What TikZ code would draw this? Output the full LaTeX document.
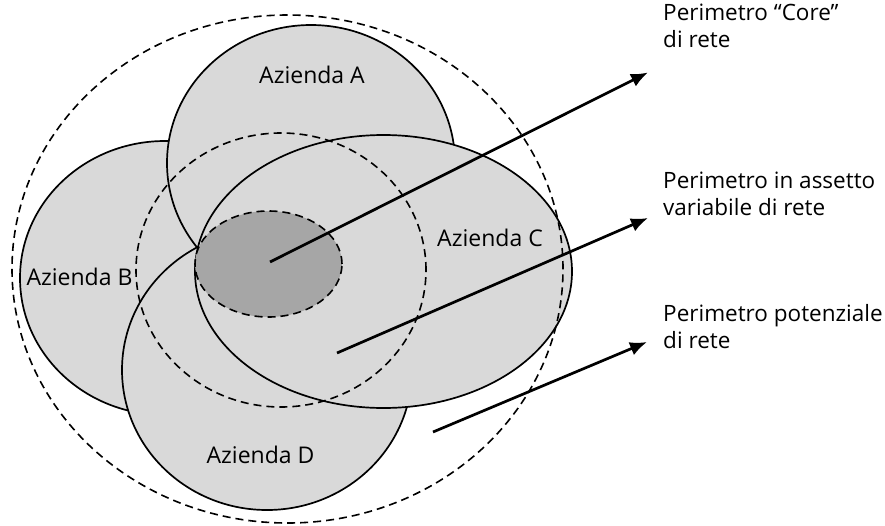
\documentclass[tikz,border=0pt]{standalone}
\usepackage{fontspec}
\setmainfont{Open Sans}
\usetikzlibrary{arrows.meta}
\definecolor{firmgray}{HTML}{D9D9D9}
\definecolor{coregray}{HTML}{A6A6A6}
\tikzset{
  firm/.style={fill=firmgray, draw=black, line width=1.7pt},
  perim/.style={draw=black, line width=1.6pt, dash pattern=on 8pt off 5pt},
  corearea/.style={fill=coregray, draw=black, line width=1.6pt, dash pattern=on 8pt off 5pt},
  pointer/.style={draw=black, line width=2.7pt, -{Latex[length=17pt,width=14pt]}},
  firmlabel/.style={anchor=base, inner sep=0pt, font=\fontsize{23pt}{27pt}\selectfont},
  sidelabel/.style={anchor=base west, inner sep=0pt, align=left, font=\fontsize{22.5pt}{27pt}\selectfont}
}
\begin{document}
\begin{tikzpicture}[x=1pt,y=-1pt]
\useasboundingbox (0,0) rectangle (885,525);
% firms (drawing order B, A, D, C)
\coordinate (cB) at (165,278);
\coordinate (cA) at (311,163);
\coordinate (cD) at (267,370);
\coordinate (cC) at (383.5,271.5);
\coordinate (cIn) at (281,270);
\coordinate (cOut) at (287.5,269);
\coordinate (cCore) at (268.5,264);
\path[firm] (cB) ellipse [x radius=145pt, y radius=137pt];
\path[firm] (cA) ellipse [x radius=144pt, y radius=138pt];
\path[firm] (cD) ellipse [x radius=145pt, y radius=140pt];
\path[firm] (cC) ellipse [x radius=188.5pt, y radius=136.5pt];
% perimeters
\path[perim] (cIn) ellipse [x radius=145pt, y radius=137pt];
\path[perim] (cOut) ellipse [x radius=275.5pt, y radius=254pt];
\path[corearea] (cCore) ellipse [x radius=73.5pt, y radius=53pt];
% firm labels
\node[firmlabel] (lA) at (312,83) {Azienda A};
\node[firmlabel] (lB) at (79.5,285) {Azienda B};
\node[firmlabel] (lC) at (490,246) {Azienda C};
\node[firmlabel] (lD) at (260.5,463) {Azienda D};
% side labels
\node[sidelabel] (pCore) at (663,47.5) {Perimetro “Core”\\di rete};
\node[sidelabel] (pVar) at (663,215) {Perimetro in assetto\\variabile di rete};
\node[sidelabel] (pPot) at (663,348) {Perimetro potenziale\\di rete};
% arrows
\coordinate (s1) at (270,262);
\coordinate (e1) at (648,72.5);
\coordinate (s2) at (337,353);
\coordinate (e2) at (648,218);
\coordinate (s3) at (433,432);
\coordinate (e3) at (647,342);
\draw[pointer] (s1) -- (e1);
\draw[pointer] (s2) -- (e2);
\draw[pointer] (s3) -- (e3);
\end{tikzpicture}
\end{document}
